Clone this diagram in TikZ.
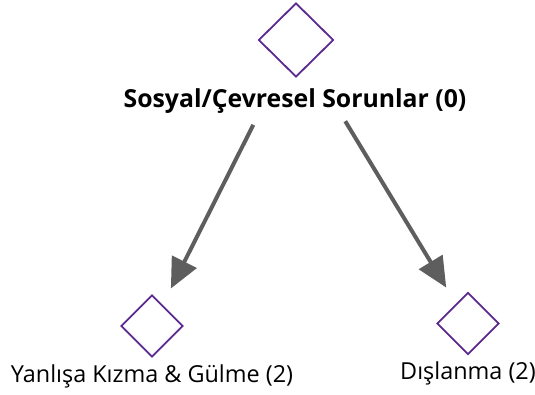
\documentclass[tikz,border=0pt]{standalone}
\usepackage{fontspec}
\setmainfont{Open Sans}
\usetikzlibrary{shapes.geometric,arrows.meta}
\definecolor{mor}{HTML}{5B2A8E}
\definecolor{gri}{HTML}{5E5E5E}
\begin{document}
\begin{tikzpicture}[x=1pt,y=-1pt,
        kutu/.style={diamond, draw=mor, line width=1.8pt, minimum width=75pt, minimum height=74pt, inner sep=0pt},
        ok/.style={draw=gri, line width=4pt, -{Triangle[length=30pt,width=27pt]}}]
            \useasboundingbox (0,0) rectangle (535,394);
            \node[kutu] (ust) at (296,40) {};
            \node[anchor=base, font=\bfseries\fontsize{24.8}{28}\selectfont] (baslik) at (295,107) {Sosyal/Çevresel Sorunlar (0)};
            \foreach \n/\x/\y/\t in {sol/152/326/Yanlışa Kızma \& Gülme (2), sag/468/323.5/Dışlanma (2)} {
                    \node[kutu, minimum width=62pt, minimum height=62pt] (\n) at (\x,\y) {};
                    \node[anchor=base, font=\fontsize{23.4}{28}\selectfont] (\n yazi) at (\x,\y+56) {\t};
                    \draw[ok, shorten <=95pt, shorten >=42pt] (ust.center) -- (\n.center);
                }
        \end{tikzpicture}
\end{document}
